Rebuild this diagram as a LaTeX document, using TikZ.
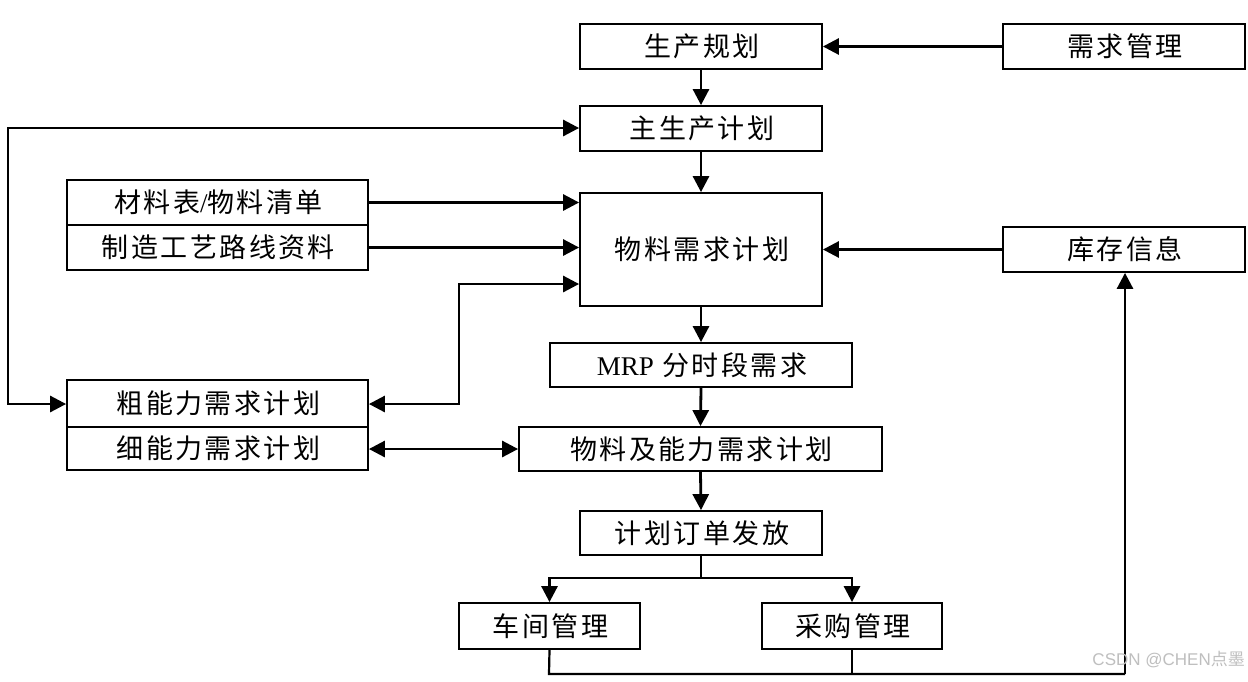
\documentclass[tikz,border=0pt]{standalone}
\usepackage{fontspec}
\setmainfont{Liberation Serif}
\newfontfamily\cjk[LetterSpace=9]{Noto Sans CJK SC}
\newfontfamily\wmfont{Liberation Sans}
\newfontfamily\wmcjk{Noto Sans CJK SC}
\usetikzlibrary{arrows.meta}
\begin{document}
\begin{tikzpicture}[x=1pt,y=-1pt,
  box/.style={draw=black,line width=1.8pt,fill=white,inner sep=0pt,font=\cjk\fontsize{27}{30}\selectfont},
  arr/.style={line width=2.8pt,-{Triangle[length=16pt,width=16pt]}},
  darr/.style={line width=2.8pt,{Triangle[length=16pt,width=16pt]}-{Triangle[length=16pt,width=16pt]}},
  ln/.style={line width=2.2pt}]
\useasboundingbox (0,0) rectangle (1248,681);
\fill[white] (0,0) rectangle (1248,681);
\newcommand{\bx}[6]{\node[box,minimum width=#4-#2,minimum height=#5-#3] (#1) at ({(#2+#4)/2},{(#3+#5)/2}) {\hspace*{2pt}#6};}
\bx{sc}{580}{24}{822}{69}{生产规划}
\bx{xq}{1003}{24}{1245}{69}{需求管理}
\bx{zs}{580}{106}{822}{151}{主生产计划}
\bx{cl}{67}{180}{368}{225}{材料表{\rmfamily/}物料清单}
\bx{zz}{67}{225}{368}{270}{制造工艺路线资料}
\bx{wl}{580}{193}{822}{306}{物料需求计划}
\bx{kc}{1003}{227}{1245}{272}{库存信息}
\bx{mrp}{550}{343}{852}{387}{{\rmfamily MRP} 分时段需求}
\bx{cn}{67}{380}{368}{427}{粗能力需求计划}
\bx{xn}{67}{427}{368}{470}{细能力需求计划}
\bx{wn}{519}{427}{882}{471}{物料及能力需求计划}
\bx{jh}{580}{511}{822}{555}{计划订单发放}
\bx{cj}{459}{603}{640}{649}{车间管理}
\bx{cg}{762}{603}{942}{649}{采购管理}
% connectors
\draw[arr] (xq.west) -- (sc.east);
\draw[arr] (sc.south) -- (zs.north);
\draw[arr] (zs.south) -- (wl.north);
\coordinate (L1) at (8,128);
\coordinate (L2) at (8,404);
\draw[darr] (cn.west |- L2) -- (L2) -- (L1) -- (zs.west |- L1);
\draw[arr] (cl.east) -- (wl.west |- cl.east);
\draw[arr] (zz.east) -- (wl.west |- zz.east);
\coordinate (M1) at (459,284);
\coordinate (M2) at (459,404);
\draw[darr] (cn.east |- M2) -- (M2) -- (M1) -- (wl.west |- M1);
\draw[arr] (kc.west) -- (wl.east |- kc.west);
\draw[arr] (wl.south) -- (mrp.north);
\draw[arr] (mrp.south) -- (wn.north);
\draw[darr] (xn.east |- wn.west) -- (wn.west);
\draw[arr] (wn.south) -- (jh.north);
\coordinate (F) at (701,578);
\draw[ln] (jh.south) -- (F);
\draw[arr] (F) -| (cj.north);
\draw[arr] (F) -| (cg.north);
\coordinate (B1) at (549,674);
\coordinate (B2) at (1125,674);
\draw[ln] (cj.south) -- (B1) -- (B2);
\draw[ln] (cg.south) -- (cg.south |- B1);
\draw[arr] (B2) -- (kc.south -| B2);
\node[text=black!25,font=\wmfont\fontsize{17}{18}\selectfont,anchor=east,inner sep=0pt] (wm) at (1245,660) {CSDN @CHEN{\wmcjk 点墨}};
\end{tikzpicture}
\end{document}
